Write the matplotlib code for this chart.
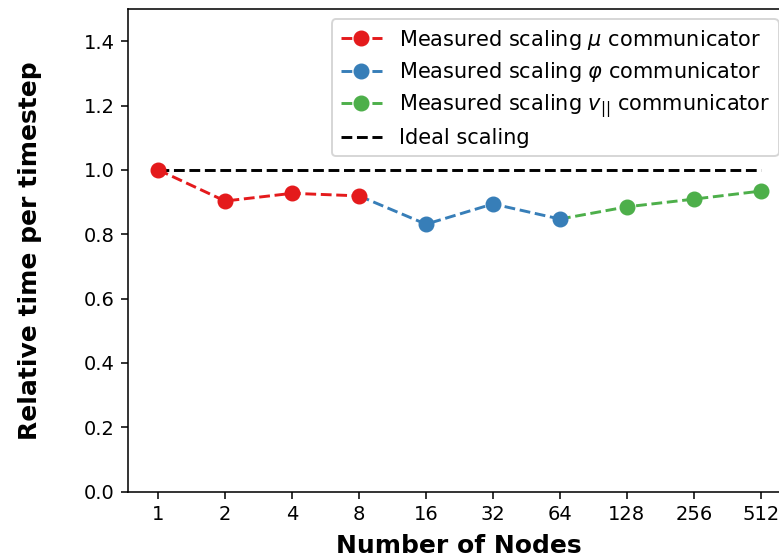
import matplotlib
matplotlib.use("Agg")
import matplotlib.pyplot as plt

nodes = ["1", "2", "4", "8", "16", "32", "64", "128", "256", "512"]

# relative time per timestep for each communicator segment
mu_nodes = ["1", "2", "4", "8"]
mu_time = [1.000, 0.903, 0.927, 0.919]

phi_nodes = ["8", "16", "32", "64"]
phi_time = [0.919, 0.831, 0.894, 0.847]

vpar_nodes = ["64", "128", "256", "512"]
vpar_time = [0.847, 0.885, 0.909, 0.934]

ideal_time = [1.0] * len(nodes)

colors = {"mu": "#e41a1c", "phi": "#377eb8", "vpar": "#4daf4a"}

W, H, DPI = 779, 560, 100
fig = plt.figure(figsize=(W / DPI, H / DPI), dpi=DPI)
ax = fig.add_axes([128 / W, (H - 491.5) / H, (789 - 128) / W, (491.5 - 9) / H])

pos = {n: i for i, n in enumerate(nodes)}
LW, MS = 2.1, 10.5

def draw(xs, ys, color, label, marker_from=0):
    x = [pos[n] for n in xs]
    ax.plot(x, ys, "--", color=color, lw=LW, zorder=2)
    ax.plot(x[marker_from:], ys[marker_from:], "o", color=color, ms=MS, zorder=3)
    ax.plot([], [], "--o", color=color, lw=LW, ms=MS, label=label)

draw(mu_nodes, mu_time, colors["mu"], r"Measured scaling $\mu$ communicator")
draw(phi_nodes, phi_time, colors["phi"], r"Measured scaling $\varphi$ communicator", marker_from=1)
draw(vpar_nodes, vpar_time, colors["vpar"], r"Measured scaling $v_{||}$ communicator", marker_from=1)
ax.plot(range(len(nodes)), ideal_time, "--", color="black", lw=LW, zorder=1,
        label="Ideal scaling")

ax.set_xticks(range(len(nodes)))
ax.set_xticklabels(nodes)
ax.set_xlim(-0.45, 9.42)
ax.set_ylim(0, 1.5)
ax.set_yticks([0.0, 0.2, 0.4, 0.6, 0.8, 1.0, 1.2, 1.4])
ax.tick_params(labelsize=14, length=4.9, width=1.12, pad=4.9)
for sp in ax.spines.values():
    sp.set_linewidth(1.12)

ax.set_xlabel("Number of Nodes", fontsize=18, fontweight="bold", labelpad=7)
ax.set_ylabel("Relative time per timestep", fontsize=18, fontweight="bold", labelpad=30)

leg = ax.legend(loc="upper right", fontsize=15, labelspacing=0.4)
leg.get_frame().set_linewidth(1.4)

fig.savefig("out.png", dpi=DPI)
